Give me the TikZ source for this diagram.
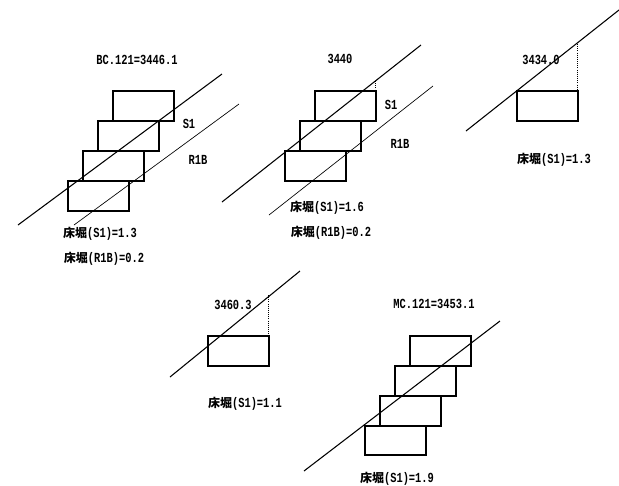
\documentclass[tikz,border=0pt]{standalone}
\usepackage{fontspec}
\setmainfont[FakeStretch=0.75]{Liberation Mono}
\newfontfamily\kanjifont{Noto Sans CJK JP}
\newcommand{\yuka}{{\kanjifont\bfseries\fontsize{9}{9}\selectfont 床堀}}
\tikzset{
  thinline/.style={line width=0.5pt},
  groundline/.style={line width=0.8pt},
  cutbox/.style={line width=1.5pt},
  dropline/.style={line width=0.6pt, densely dotted},
  lbl/.style={inner sep=0pt, font=\bfseries\fontsize{10.4}{10.4}\selectfont}
}
\begin{document}
\begin{tikzpicture}[x=0.75pt, y=-0.75pt]
    \useasboundingbox (0, 0) rectangle (619, 486);

    % BC.121
    \draw[cutbox] (112.5, 90.5) rectangle (173.5, 120.5);
    \draw[cutbox] (97.5, 120.5) rectangle (158.5, 150.5);
    \draw[cutbox] (82.5, 150.5) rectangle (143.5, 180.5);
    \draw[cutbox] (67.5, 180.5) rectangle (128.5, 210.5);

    \draw[groundline] (18, 225)--(222, 74);
    \draw[thinline] (74, 225)--(239, 104);

    \node[lbl] (bcsta) at (137, 60) {BC.121=3446.1};
    \node[lbl] (bcsone) at (189, 124) {S1};
    \node[lbl] (bcrone) at (198, 160) {R1B};
    \node[lbl] (bcdepth) at (100, 234) {\yuka(S1)=1.3};
    \node[lbl] (bcdeptr) at (104, 259) {\yuka(R1B)=0.2};


    % 3440
    \draw[cutbox] (314.5, 90.5) rectangle (375.5, 120.5);
    \draw[cutbox] (299.5, 120.5) rectangle (360.5, 150.5);
    \draw[cutbox] (284.5, 150.5) rectangle (345.5, 180.5);

    \draw[groundline] (222, 202)--(421, 45);
    \draw[thinline] (269, 215)--(433, 86);
    \draw[dropline] (375.5, 81)--(375.5, 90.5);

    \node[lbl] (ststa) at (340, 59) {3440};
    \node[lbl] (stsone) at (391, 105) {S1};
    \node[lbl] (strone) at (400, 144) {R1B};
    \node[lbl] (stdepth) at (327, 208) {\yuka(S1)=1.6};
    \node[lbl] (stdeptr) at (331, 233) {\yuka(R1B)=0.2};


    % 3434.0
    \draw[cutbox] (516.5, 90.5) rectangle (577.5, 120.5);

    \draw[groundline] (466, 131)--(619, 10);
    \draw[dropline] (577.5, 44)--(577.5, 90.5);

    \node[lbl] (ltsta) at (541, 60) {3434.0};
    \node[lbl] (ltdepth) at (554, 160) {\yuka(S1)=1.3};


    % 3460.3
    \draw[cutbox] (207.5, 335.5) rectangle (268.5, 365.5);

    \draw[groundline] (170, 377)--(300, 271);
    \draw[dropline] (268.5, 295)--(268.5, 335.5);

    \node[lbl] (mdsta) at (233, 305) {3460.3};
    \node[lbl] (mddepth) at (245, 404) {\yuka(S1)=1.1};


    % MC.121
    \draw[cutbox] (409.5, 335.5) rectangle (470.5, 365.5);
    \draw[cutbox] (394.5, 365.5) rectangle (455.5, 395.5);
    \draw[cutbox] (379.5, 395.5) rectangle (440.5, 425.5);
    \draw[cutbox] (364.5, 425.5) rectangle (425.5, 454.5);

    \draw[groundline] (304, 471)--(500, 321);

    \node[lbl] (mcsta) at (434, 304) {MC.121=3453.1};
    \node[lbl] (mcdepth) at (397, 479) {\yuka(S1)=1.9};
  \end{tikzpicture}
\end{document}
